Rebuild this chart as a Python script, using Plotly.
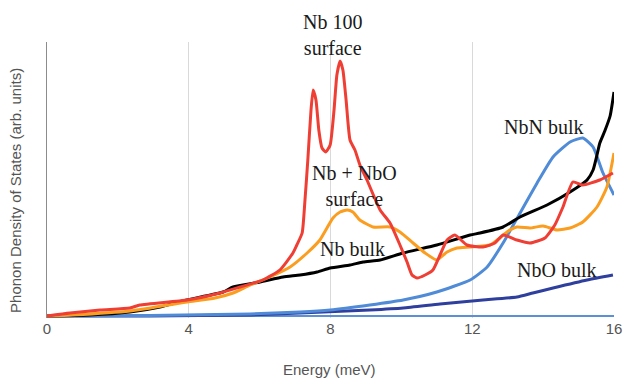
import plotly.graph_objects as go

# Energy (meV) and phonon DOS (arb. units)
nb100_x = [0, 0.65, 1.50, 2.34, 2.62, 3.95, 4.88, 5.45, 6.09, 6.57, 6.94, 7.05, 7.20, 7.28, 7.36, 7.45, 7.51,
           7.59, 7.67, 7.76, 7.87, 7.99, 8.10, 8.18, 8.27, 8.35, 8.44, 8.55, 8.69, 8.83, 9.03, 9.40, 9.68,
           9.96, 10.16, 10.30, 10.44, 10.67, 10.89, 11.09, 11.29, 11.51, 11.85, 12.30, 12.64, 12.87, 13.26,
           13.63, 14.05, 14.33, 14.56, 14.84, 15.12, 15.60, 15.97]
nb100_y = [0, 0.03, 0.06, 0.08, 0.11, 0.16, 0.23, 0.29, 0.36, 0.46, 0.63, 0.71, 0.83, 1.16, 1.56, 2.06, 2.26,
           2.16, 1.86, 1.68, 1.64, 1.71, 2.06, 2.41, 2.55, 2.46, 2.16, 1.76, 1.66, 1.51, 1.36, 1.06, 0.93,
           0.71, 0.54, 0.41, 0.38, 0.41, 0.46, 0.61, 0.76, 0.81, 0.71, 0.69, 0.73, 0.81, 0.76,
           0.73, 0.78, 0.91, 1.09, 1.34, 1.31, 1.36, 1.43]

nbnbo_x = [0, 0.73, 2.34, 3.95, 4.74, 5.25, 5.73, 6.29, 6.86, 7.34, 7.70, 8.07, 8.27, 8.47, 8.63, 8.83, 9.20,
           9.68, 9.96, 10.33, 10.67, 11.00, 11.29, 11.57, 11.94, 12.50, 12.78, 12.98, 13.26, 13.63, 14.00,
           14.39, 14.76, 15.12, 15.52, 15.80, 16.0]
nbnbo_y = [0, 0.01, 0.05, 0.14, 0.18, 0.23, 0.31, 0.39, 0.49, 0.63, 0.76, 0.98, 1.04, 1.06, 1.04, 0.96, 0.89,
           0.89, 0.84, 0.73, 0.63, 0.56, 0.64, 0.68, 0.69, 0.71, 0.78, 0.84, 0.89, 0.88, 0.90,
           0.86, 0.88, 0.94, 1.09, 1.29, 1.63]

nbbulk_x = [0, 1.21, 2.34, 3.19, 3.95, 4.97, 5.25, 6.01, 6.66, 7.14, 7.62, 7.99, 8.55, 8.92, 9.40, 10.05,
            11.00, 11.94, 12.22, 12.87, 13.35, 14.11, 14.76, 15.24, 15.41, 15.52, 15.60, 15.74, 15.89, 16.0]
nbbulk_y = [0, 0.01, 0.04, 0.09, 0.16, 0.24, 0.29, 0.34, 0.39, 0.41, 0.44, 0.48, 0.51, 0.54, 0.56, 0.63,
            0.71, 0.81, 0.83, 0.89, 0.99, 1.11, 1.24, 1.36, 1.46, 1.61, 1.73, 1.85, 2.00, 2.24]

nbn_x = [0, 2.91, 5.73, 7.14, 7.99, 9.11, 10.05, 11.00, 11.94, 12.42, 12.87, 13.35, 13.83, 14.28, 14.76,
         15.12, 15.41, 15.69, 16.0]
nbn_y = [0, 0.005, 0.02, 0.04, 0.06, 0.11, 0.16, 0.24, 0.36, 0.49, 0.73, 1.03, 1.33, 1.59, 1.74,
         1.78, 1.69, 1.43, 1.21]

nbo_x = [0, 2.91, 5.73, 7.14, 9.11, 10.05, 11.09, 12.30, 13.26, 13.71, 14.28, 15.24, 15.97]
nbo_y = [0, 0.0, 0.01, 0.03, 0.06, 0.08, 0.12, 0.16, 0.19, 0.23, 0.28, 0.36, 0.41]

base_x = [0.6, 16]
base_y = [0, 0]

x_ticks = [0, 4, 8, 12, 16]

labels = ["Nb 100<br>surface", "Nb + NbO<br>surface", "Nb bulk", "NbN bulk", "NbO bulk"]
label_x = [8.07, 8.69, 8.63, 14.0, 14.39]
label_y = [2.81, 1.30, 0.67, 1.89, 0.46]

Y_MIN, Y_MAX = -0.02, 2.74

fig = go.Figure()
series = [
    (base_x, base_y, "#5b8fd6", 2),
    (nbo_x, nbo_y, "#2f3f9e", 3),
    (nbn_x, nbn_y, "#4f8bd6", 3),
    (nbbulk_x, nbbulk_y, "#000000", 3),
    (nbnbo_x, nbnbo_y, "#fb9d1e", 3),
    (nb100_x, nb100_y, "#ef3e34", 3),
]
for xs, ys, col, w in series:
    fig.add_trace(go.Scatter(x=xs, y=ys, mode="lines",
                             line=dict(color=col, width=w, shape="spline", smoothing=0.5),
                             showlegend=False, hoverinfo="skip"))

for t, lx, ly in zip(labels, label_x, label_y):
    if ly > Y_MAX:
        fig.add_annotation(x=lx, xref="x", y=(ly - Y_MIN) / (Y_MAX - Y_MIN), yref="paper", text=t,
                           showarrow=False, xanchor="center", yanchor="middle",
                           font=dict(family="Liberation Serif", size=20, color="#1a1a1a"))
    else:
        fig.add_annotation(x=lx, y=ly, text=t, showarrow=False, xanchor="center", yanchor="middle",
                           font=dict(family="Liberation Serif", size=20, color="#1a1a1a"))

fig.add_annotation(xref="paper", yref="paper", x=0.499, y=-0.188, text="Energy (meV)", showarrow=False,
                   xanchor="center", yanchor="middle",
                   font=dict(family="Liberation Sans", size=15, color="#555555"))
fig.add_annotation(xref="paper", yref="paper", x=-0.0547, y=0.464, text="Phonon Density of States (arb. units)",
                   showarrow=False, textangle=-90, xanchor="center", yanchor="middle",
                   font=dict(family="Liberation Sans", size=15, color="#555555"))

fig.update_layout(
    width=624, height=378,
    margin=dict(l=47, r=10, t=42, b=60, autoexpand=False),
    paper_bgcolor="white", plot_bgcolor="white",
    xaxis=dict(range=[0, 16], tickvals=x_ticks, showgrid=True, gridcolor="#d9d9d9", gridwidth=1,
               zeroline=False, showline=False, ticks="", automargin=False,
               tickfont=dict(family="Liberation Sans", size=15, color="#555555")),
    yaxis=dict(range=[Y_MIN, Y_MAX], showgrid=False, zeroline=False, showticklabels=False,
               automargin=False, showline=True, linecolor="#8c8c8c", linewidth=1),
)

fig.write_html("out.html", config={"displayModeBar": False},
               post_script="document.body.style.margin='0';document.body.style.overflow='hidden';")
